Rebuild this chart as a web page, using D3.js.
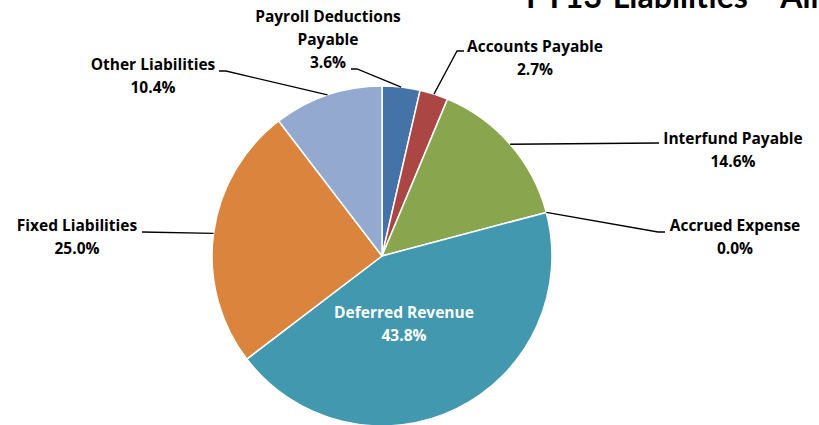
<!DOCTYPE html>
<html>
<head>
<meta charset="utf-8">
<script src="https://cdn.jsdelivr.net/npm/d3@7"></script>
<style>
  html, body { margin: 0; padding: 0; background: #fff; overflow: hidden; }
  svg { display: block; }
  text { font-weight: bold; }
</style>
</head>
<body>
<svg id="chart" width="819" height="425"></svg>
<script>
// ---- data ----
const title = "FY13 Liabilities - All Funds";
const categories = ["Payroll Deductions Payable", "Accounts Payable", "Interfund Payable",
  "Accrued Expense", "Deferred Revenue", "Fixed Liabilities", "Other Liabilities"];
const values = [3.6, 2.7, 14.6, 0.0, 43.8, 25.0, 10.4];
const colors = ["#4572A7", "#AA4643", "#89A54E", "#7F7F7F", "#4198AF", "#DB843D", "#93A9CF"];

// ---- layout (label placement) ----
const cx = 382, cy = 256, radius = 170;
const labelLayout = {
  "Payroll Deductions Payable": { lines: ["Payroll Deductions", "Payable"], x: 328, y: 22, elbow: [357, 69], end: [351, 69] },
  "Accounts Payable": { lines: ["Accounts Payable"], x: 535, y: 52, elbow: [457, 51], end: [464, 51] },
  "Interfund Payable": { lines: ["Interfund Payable"], x: 733, y: 144, elbow: null, end: [659, 143] },
  "Accrued Expense": { lines: ["Accrued Expense"], x: 735, y: 231, elbow: [658, 232], end: [665, 232] },
  "Deferred Revenue": { lines: ["Deferred Revenue"], x: 404, y: 318, inside: true },
  "Fixed Liabilities": { lines: ["Fixed Liabilities"], x: 77, y: 231, elbow: null, end: [142, 232] },
  "Other Liabilities": { lines: ["Other Liabilities"], x: 153, y: 70, elbow: [226, 71], end: [219, 71] }
};
const lineH = 23;

const svg = d3.select("#chart");

svg.append("text")
  .attr("x", 526).attr("y", 8)
  .attr("font-family", "Lato, sans-serif")
  .attr("font-size", 32)
  .attr("word-spacing", 3)
  .attr("fill", "#000")
  .text(title);

const data = categories.map((c, i) => ({ name: c, value: values[i], color: colors[i] }));
const pie = d3.pie().sort(null).value(d => d.value).startAngle(0).endAngle(2 * Math.PI);
const arcs = pie(data);
const arc = d3.arc().innerRadius(0).outerRadius(radius);

const g = svg.append("g").attr("transform", `translate(${cx},${cy})`);
g.selectAll("path").data(arcs.filter(a => a.data.value > 0)).join("path")
  .attr("d", arc)
  .attr("fill", d => d.data.color)
  .attr("stroke", "#fff")
  .attr("stroke-width", 1.5)
  .attr("stroke-linejoin", "round");

arcs.forEach(a => {
  const L = labelLayout[a.data.name];
  const mid = (a.startAngle + a.endAngle) / 2;
  const px = cx + radius * Math.sin(mid), py = cy - radius * Math.cos(mid);
  const pctText = a.data.value.toFixed(1) + "%";
  if (!L.inside) {
    const pts = [[px, py]];
    if (L.elbow) pts.push(L.elbow);
    pts.push(L.end);
    svg.append("path")
      .attr("d", d3.line()(pts))
      .attr("fill", "none")
      .attr("stroke", "#000")
      .attr("stroke-width", 1.3);
  }
  const t = svg.append("text")
    .attr("text-anchor", "middle")
    .attr("font-family", "'Open Sans', sans-serif")
    .attr("font-size", 15.5)
    .attr("fill", L.inside ? "#fff" : "#000");
  L.lines.concat([pctText]).forEach((s, i) => {
    t.append("tspan").attr("x", L.x).attr("y", L.y + i * lineH).text(s);
  });
});
</script>
</body>
</html>
